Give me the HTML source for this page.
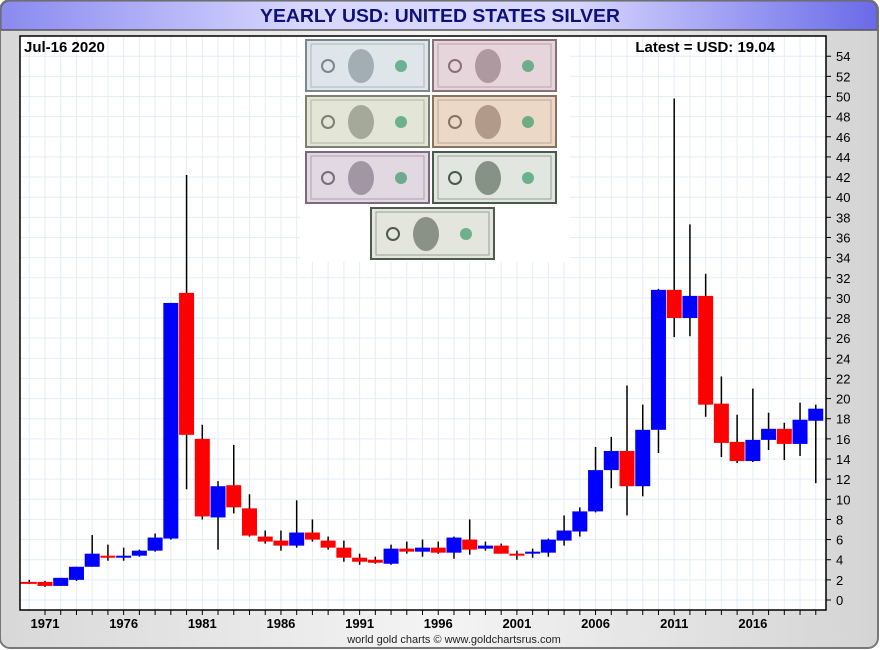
<!DOCTYPE html>
<html><head><meta charset="utf-8">
<style>
html,body{margin:0;padding:0;width:880px;height:650px;overflow:hidden;background:#fff;font-family:"Liberation Sans",sans-serif;}
</style></head><body>
<svg id="s" width="880" height="650" xmlns="http://www.w3.org/2000/svg" font-family="Liberation Sans, sans-serif">
<defs>
<linearGradient id="bg" x1="0" y1="0" x2="1" y2="0">
<stop offset="0" stop-color="#d8d8d8"/><stop offset="0.5" stop-color="#f4f4f4"/><stop offset="1" stop-color="#d4d4d4"/></linearGradient>
<linearGradient id="tb" x1="0" y1="0" x2="1" y2="0">
<stop offset="0" stop-color="#8a8af0"/><stop offset="0.35" stop-color="#d8d8ff"/><stop offset="0.65" stop-color="#d8d8ff"/><stop offset="1" stop-color="#6a6ae8"/></linearGradient>
</defs>
<rect x="0" y="0" width="878" height="648" rx="10" fill="url(#bg)" stroke="#777" stroke-width="2"/>
<path d="M1 30 L1 11 Q1 1 11 1 L867 1 Q877 1 877 11 L877 30 Z" fill="url(#tb)" stroke="#666" stroke-width="1"/>
<line x1="1" y1="30" x2="877" y2="30" stroke="#555" stroke-width="1.5"/>
<text x="440" y="22" text-anchor="middle" font-size="18" font-weight="bold" fill="#10107a" textLength="360" lengthAdjust="spacingAndGlyphs">YEARLY USD: UNITED STATES SILVER</text>
<rect x="20" y="36" width="806" height="574" fill="#fff"/>
<g id="grid"></g>
<rect x="300" y="37" width="270" height="225" fill="#fff"/>
<g id="notes"></g>
<g id="candles"></g>
<rect x="20" y="36" width="806" height="574" fill="none" stroke="#000" stroke-width="1.5"/>
<g id="axes"></g>
<text x="24" y="52" font-size="15" font-weight="bold">Jul-16  2020</text>
<text x="775" y="52" text-anchor="end" font-size="15" font-weight="bold">Latest = USD: 19.04</text>
<text x="454" y="643" text-anchor="middle" font-size="11" fill="#222">world gold charts © www.goldchartsrus.com</text>
</svg>
<script>
var NS="http://www.w3.org/2000/svg";
function el(p,t,a,txt){var e=document.createElementNS(NS,t);for(var k in a)e.setAttribute(k,a[k]);if(txt!==undefined)e.textContent=txt;document.getElementById(p).appendChild(e);return e;}
function X(yr){return 45+(yr-1971)*15.73;}
function Y(v){return 600-v*10.07;}
for(var yr=1970;yr<=2020;yr++){el("grid","line",{x1:X(yr),x2:X(yr),y1:36,y2:610,stroke:"#e3eef7","stroke-width":1});}
for(var v=0;v<=56;v+=2){el("grid","line",{x1:20,x2:826,y1:Y(v),y2:Y(v),stroke:"#e3eef7","stroke-width":1});}
for(var v=0;v<=54;v+=2){el("axes","line",{x1:826,x2:831,y1:Y(v),y2:Y(v),stroke:"#000"});el("axes","text",{x:836,y:Y(v)+5,"font-size":13},String(v));}
for(var yr=1971;yr<=2020;yr++){el("axes","line",{x1:X(yr),x2:X(yr),y1:610,y2:615,stroke:"#000"});if((yr-1971)%5==0)el("axes","text",{x:X(yr),y:628,"text-anchor":"middle","font-size":13,"font-weight":"bold"},String(yr));}
var d=[[1970,1.8,1.75,2.0,1.6],[1971,1.8,1.4,1.9,1.3],[1972,1.4,2.2,2.2,1.4],[1973,2.0,3.3,3.3,1.9],[1974,3.3,4.6,6.45,3.3],
[1975,4.4,4.2,5.5,3.9],[1976,4.2,4.4,5.2,3.9],[1977,4.4,4.9,5.0,4.3],[1978,4.9,6.2,6.6,4.8],[1979,6.1,29.5,29.5,6.0],
[1980,30.5,16.4,42.2,11.0],[1981,16.0,8.3,17.4,8.0],[1982,8.2,11.3,11.8,5.0],[1983,11.4,9.2,15.4,8.6],[1984,9.1,6.4,10.5,6.3],
[1985,6.3,5.8,6.9,5.6],[1986,5.9,5.4,6.9,4.9],[1987,5.4,6.7,9.9,5.2],[1988,6.7,6.0,8.0,5.8],[1989,5.9,5.2,6.3,5.0],
[1990,5.2,4.2,5.9,3.8],[1991,4.2,3.8,4.6,3.5],[1992,4.0,3.7,4.3,3.6],[1993,3.6,5.1,5.5,3.5],[1994,5.1,4.8,5.8,4.6],
[1995,4.8,5.2,6.0,4.3],[1996,5.2,4.7,5.8,4.6],[1997,4.7,6.2,6.3,4.1],[1998,6.0,5.0,8.0,4.5],[1999,5.1,5.4,5.8,4.9],
[2000,5.4,4.6,5.6,4.6],[2001,4.6,4.5,4.9,4.0],[2002,4.6,4.8,5.1,4.2],[2003,4.7,6.0,6.1,4.3],[2004,5.9,6.9,8.4,5.4],
[2005,6.8,8.8,9.2,6.3],[2006,8.8,12.9,15.2,8.7],[2007,12.9,14.8,16.2,11.1],[2008,14.8,11.3,21.3,8.4],[2009,11.3,16.9,19.4,10.3],
[2010,16.9,30.8,30.9,14.6],[2011,30.8,28.0,49.8,26.1],[2012,28.0,30.2,37.3,26.2],[2013,30.2,19.4,32.4,18.2],[2014,19.5,15.6,22.2,14.2],
[2015,15.7,13.8,18.4,13.6],[2016,13.8,15.9,21.0,13.7],[2017,15.9,17.0,18.6,14.9],[2018,17.0,15.5,17.6,13.9],[2019,15.5,17.9,19.6,14.3],
[2020,17.8,19.0,19.4,11.6]];
d.forEach(function(r){var x=X(r[0]);var up=r[2]>=r[1];
el("candles","line",{x1:x,x2:x,y1:Y(r[3]),y2:Y(r[4]),stroke:"#000","stroke-width":1.5});
var t=Math.max(r[1],r[2]),b=Math.min(r[1],r[2]);var h=Math.max(Y(b)-Y(t),2);
var x0=x-7.5,w=15;if(r[0]==1970){x0=20;w=x+7.5-20;}
el("candles","rect",{x:x0,y:Y(t),width:w,height:h,fill:up?"#0000ff":"#ff0000"});});
var notes=[[306,40,"#dfe6ea","#7b8890"],[433,40,"#e6d6dc","#8a6f78"],[306,96,"#e3e6d6","#7c8070"],[433,96,"#ecd8c6","#8a7260"],[306,152,"#e2d8e2","#7a6a7c"],[433,152,"#e2e6e0","#4a5a4a"],[371,208,"#e4e6de","#4e5a4e"]];
notes.forEach(function(n){el("notes","rect",{x:n[0],y:n[1],width:123,height:51,fill:n[2],stroke:n[3],"stroke-width":2});
el("notes","circle",{cx:n[0]+22,cy:n[1]+26,r:6,fill:"none",stroke:n[3],"stroke-width":2});
el("notes","ellipse",{cx:n[0]+55,cy:n[1]+26,rx:13,ry:17,fill:n[3],opacity:0.6});
el("notes","circle",{cx:n[0]+95,cy:n[1]+26,r:6,fill:"#3a9a6a",opacity:0.7});
el("notes","rect",{x:n[0]+5,y:n[1]+4,width:113,height:43,fill:"none",stroke:n[3],"stroke-width":1,opacity:0.5});});
</script>
</body></html>
